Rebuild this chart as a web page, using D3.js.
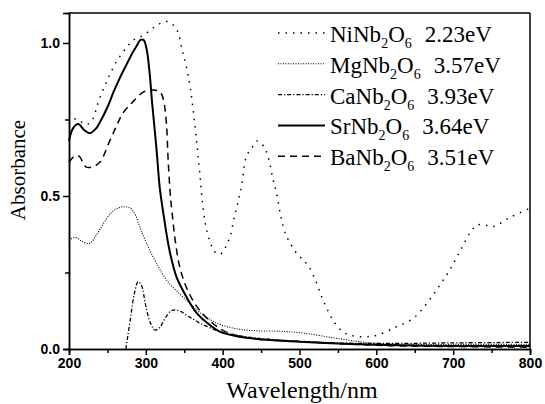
<!DOCTYPE html>
<html>
<head>
<meta charset="utf-8">
<script src="https://cdn.jsdelivr.net/npm/d3@7"></script>
<style>
  body { margin: 0; background: #fff; }
  svg { display: block; }
</style>
</head>
<body>
<svg id="drawing_region"></svg>
<script>
// wavelength (nm) / absorbance
const niWl  = [200, 205, 212, 220, 228, 240, 250, 262, 275, 284, 297, 310, 320, 329, 340, 347, 352, 358, 366, 370, 375, 380, 386, 393, 400, 405, 410, 415, 420, 425, 431, 438, 445, 454, 460, 465, 470, 476, 482, 488, 497, 505, 512, 520, 529, 538, 546, 557, 570, 585, 601, 624, 648, 666, 683, 696, 709, 722, 731, 742, 752, 774, 800];
const niAbs = [0.735, 0.75, 0.75, 0.735, 0.74, 0.82, 0.88, 0.94, 0.985, 1.01, 1.025, 1.05, 1.065, 1.07, 1.045, 0.98, 0.93, 0.85, 0.68, 0.58, 0.45, 0.38, 0.335, 0.31, 0.315, 0.34, 0.37, 0.43, 0.48, 0.54, 0.63, 0.657, 0.68, 0.66, 0.62, 0.56, 0.51, 0.43, 0.375, 0.345, 0.31, 0.29, 0.27, 0.23, 0.17, 0.12, 0.085, 0.055, 0.043, 0.04, 0.045, 0.07, 0.1, 0.15, 0.21, 0.26, 0.32, 0.38, 0.405, 0.405, 0.40, 0.43, 0.46];

const mgWl  = [200, 208, 218, 227, 235, 240, 253, 263, 273, 280, 286, 292, 301, 314, 327, 344, 357, 370, 392, 414, 440, 475, 505, 548, 592, 650, 700, 800];
const mgAbs = [0.355, 0.365, 0.35, 0.345, 0.37, 0.39, 0.44, 0.46, 0.465, 0.46, 0.44, 0.40, 0.345, 0.28, 0.225, 0.18, 0.15, 0.12, 0.085, 0.068, 0.06, 0.058, 0.052, 0.035, 0.02, 0.015, 0.015, 0.015];

const caWl  = [274, 280, 285, 290, 294, 300, 306, 312, 318, 325, 332, 338, 346, 353, 360, 370, 383, 397, 430, 470, 520, 600, 700, 800];
const caAbs = [0.0, 0.1, 0.18, 0.22, 0.21, 0.14, 0.085, 0.062, 0.07, 0.1, 0.123, 0.128, 0.122, 0.11, 0.1, 0.085, 0.07, 0.056, 0.04, 0.03, 0.022, 0.018, 0.02, 0.022];

const srWl  = [200, 205, 212, 220, 227, 235, 240, 250, 258, 267, 275, 282, 288, 293, 297, 301, 305, 308, 314, 318, 323, 331, 340, 353, 366, 380, 397, 422, 457, 500, 550, 600, 700, 800];
const srAbs = [0.68, 0.72, 0.735, 0.715, 0.705, 0.72, 0.74, 0.79, 0.84, 0.89, 0.93, 0.965, 0.99, 1.01, 1.01, 0.98, 0.9, 0.81, 0.65, 0.53, 0.44, 0.32, 0.235, 0.17, 0.118, 0.085, 0.056, 0.04, 0.03, 0.024, 0.018, 0.014, 0.01, 0.01];

const baWl  = [200, 207, 213, 222, 230, 240, 253, 262, 270, 284, 297, 305, 314, 320, 324, 327, 329, 332, 334, 338, 344, 353, 366, 384, 405, 436, 500, 600, 700, 800];
const baAbs = [0.61, 0.63, 0.63, 0.595, 0.595, 0.61, 0.68, 0.73, 0.77, 0.81, 0.84, 0.845, 0.845, 0.835, 0.8, 0.73, 0.62, 0.5, 0.45, 0.36, 0.27, 0.2, 0.14, 0.09, 0.055, 0.035, 0.025, 0.012, 0.008, 0.006];

const names  = ['NiNb', 'MgNb', 'CaNb', 'SrNb', 'BaNb'];
const gaps   = ['2.23eV', '3.57eV', '3.93eV', '3.64eV', '3.51eV'];
const xTicks = [200, 300, 400, 500, 600, 700, 800];
const yTicks = [0.0, 0.5, 1.0];

const series = [
  { wl: niWl, abs: niAbs, dash: '1.5,6', width: 1.5 },
  { wl: mgWl, abs: mgAbs, dash: '1,1.5', width: 1.1 },
  { wl: caWl, abs: caAbs, dash: '4,2,1.2,2', width: 1.3 },
  { wl: srWl, abs: srAbs, dash: null, width: 2 },
  { wl: baWl, abs: baAbs, dash: '7,5', width: 1.5 }
];

const serif = "'Liberation Serif', 'Times New Roman', serif";
const sans = "'Liberation Sans', Arial, sans-serif";

const width = 545, height = 404;
const margin = { top: 13, right: 15, bottom: 55, left: 69 };
const innerW = width - margin.left - margin.right;
const innerH = height - margin.top - margin.bottom;

const svg = d3.select('#drawing_region')
  .attr('width', width)
  .attr('height', height);

const chart = svg.append('g')
  .attr('transform', `translate(${margin.left}, ${margin.top})`);

const xscale = d3.scaleLinear().domain([200, 800]).range([0, innerW]);
const yscale = d3.scaleLinear().domain([0, 1.098]).range([innerH, 0]);

// minor ticks
const xaxisMinor = d3.axisBottom(xscale).tickValues(d3.range(250, 800, 100)).tickSize(4).tickFormat('');
const yaxisMinor = d3.axisLeft(yscale).tickValues([0.25, 0.75]).tickSize(4).tickFormat('');

const xaxis = d3.axisBottom(xscale).tickValues(xTicks).tickSize(6).tickPadding(3).tickFormat(d3.format('d'));
const yaxis = d3.axisLeft(yscale).tickValues(yTicks).tickSize(6).tickPadding(3).tickFormat(d3.format('.1f'));

chart.append('g').attr('transform', `translate(0, ${innerH})`).call(xaxisMinor);
chart.append('g').call(yaxisMinor);
chart.append('g').attr('transform', `translate(0, ${innerH})`).call(xaxis);
chart.append('g').call(yaxis);

chart.selectAll('.domain').attr('stroke-width', 1.5);
chart.selectAll('.tick line').attr('stroke-width', 1.5);
chart.selectAll('.tick text')
  .style('font-family', sans)
  .style('font-weight', 'bold')
  .style('font-size', '14px')
  .attr('fill', '#000');

// frame top and right
chart.append('line').attr('x1', 0).attr('x2', innerW).attr('y1', 0).attr('y2', 0)
  .attr('stroke', '#000').attr('stroke-width', 1.5);
chart.append('line').attr('x1', innerW).attr('x2', innerW).attr('y1', 0).attr('y2', innerH)
  .attr('stroke', '#000').attr('stroke-width', 1.5);

const line = d3.line()
  .x(d => xscale(d[0]))
  .y(d => yscale(d[1]))
  .curve(d3.curveCatmullRom.alpha(0.5));

series.forEach(s => {
  chart.append('path')
    .attr('d', line(s.wl.map((w, i) => [w, s.abs[i]])))
    .attr('fill', 'none')
    .attr('stroke', '#000')
    .attr('stroke-width', s.width)
    .attr('stroke-dasharray', s.dash);
});

// legend
const legend = svg.append('g');
series.forEach((s, i) => {
  const ly = 33 + i * 30.8;
  legend.append('line')
    .attr('x1', 278).attr('x2', 325)
    .attr('y1', ly).attr('y2', ly)
    .attr('stroke', '#000')
    .attr('stroke-width', s.width)
    .attr('stroke-dasharray', s.dash);
  const t = legend.append('text')
    .attr('x', 330).attr('y', ly + 9)
    .style('font-family', serif)
    .style('font-size', '23px')
    .attr('fill', '#000');
  t.append('tspan').text(names[i]);
  t.append('tspan').attr('dy', 6).style('font-size', '14px').text('2');
  t.append('tspan').attr('dy', -6).text('O');
  t.append('tspan').attr('dy', 6).style('font-size', '14px').text('6');
  t.append('tspan').attr('dy', -6).attr('dx', 13).text(gaps[i]);
});

// axis titles
svg.append('text')
  .attr('x', 302)
  .attr('y', 398)
  .attr('text-anchor', 'middle')
  .style('font-family', serif)
  .style('font-size', '24px')
  .text('Wavelength/nm');

svg.append('text')
  .attr('transform', 'translate(25, 170) rotate(-90)')
  .attr('text-anchor', 'middle')
  .style('font-family', serif)
  .style('font-size', '21px')
  .text('Absorbance');
</script>
</body>
</html>
